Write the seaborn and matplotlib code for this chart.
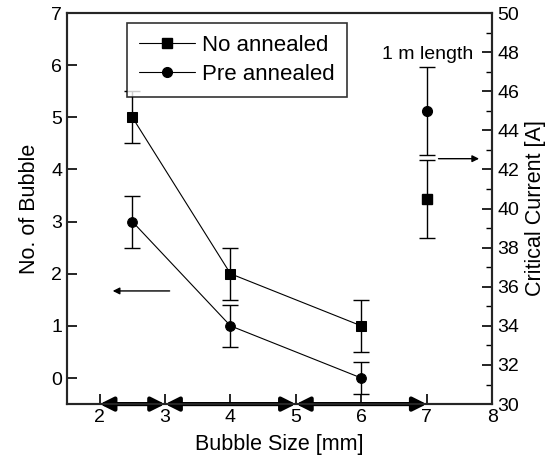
import numpy as np
import pandas as pd
import seaborn as sns
import matplotlib.pyplot as plt
from matplotlib.lines import Line2D

# bubble size [mm] vs number of bubbles (left axis)
bubble_size = [2.5, 4, 6]
no_annealed = [5, 2, 1]
no_annealed_err = [0.5, 0.5, 0.5]
pre_annealed = [3, 1, 0]
pre_annealed_err = [0.5, 0.4, 0.3]

# 1 m length critical current (right axis)
ic_x = 7
ic_no_annealed = 40.5
ic_no_annealed_err = 2.0
ic_pre_annealed = 45.0
ic_pre_annealed_err = 2.25

# bubble size ranges drawn as arrows on the x axis
size_bins = [(2, 3), (3, 5), (5, 7)]

sns.set_style("ticks")
plt.rcParams['font.family'] = ['Liberation Sans', 'DejaVu Sans']
plt.rcParams['text.color'] = 'black'
plt.rcParams['axes.labelcolor'] = 'black'
plt.rcParams['xtick.color'] = 'black'
plt.rcParams['ytick.color'] = 'black'

df = pd.DataFrame({
    'size': bubble_size * 2,
    'count': no_annealed + pre_annealed,
    'kind': ['No annealed'] * 3 + ['Pre annealed'] * 3,
})

fig = plt.figure(figsize=(5.53, 4.65), dpi=100)
ax = fig.add_axes([0.121, 0.131, 0.769, 0.841])

sns.lineplot(data=df, x='size', y='count', style='kind', markers={'No annealed': 's', 'Pre annealed': 'o'},
             dashes=False, color='black', lw=0.8, markersize=7, markeredgecolor='black',
             legend=False, ax=ax)
ax.errorbar(bubble_size, no_annealed, yerr=no_annealed_err, fmt='none', ecolor='black',
            elinewidth=1, capsize=6, capthick=1)
ax.errorbar(bubble_size, pre_annealed, yerr=pre_annealed_err, fmt='none', ecolor='black',
            elinewidth=1, capsize=6, capthick=1)

ax.set_xlim(1.5, 8)
ax.set_ylim(-0.5, 7)
ax.set_xticks(range(2, 9))
ax.set_yticks(range(0, 8))
ax.tick_params(direction='in', length=7, width=1.2, labelsize=14)
ax.set_xlabel('Bubble Size [mm]', fontsize=15.5, labelpad=6)
ax.set_ylabel('No. of Bubble', fontsize=15.5, labelpad=8)
for s in ax.spines.values():
    s.set_linewidth(1.5)

ax2 = ax.twinx()
ax2.errorbar([ic_x], [ic_pre_annealed], yerr=ic_pre_annealed_err, fmt='o', color='black',
             markersize=7, elinewidth=1, capsize=6, capthick=1)
ax2.errorbar([ic_x], [ic_no_annealed], yerr=ic_no_annealed_err, fmt='s', color='black',
             markersize=7, elinewidth=1, capsize=6, capthick=1)
ax2.set_ylim(30, 50)
ax2.set_yticks(range(30, 51, 2))
ax2.set_yticks(range(31, 50, 2), minor=True)
ax2.tick_params(direction='in', length=7, width=1.2, labelsize=14)
ax2.tick_params(which='minor', direction='in', length=4, width=1)
ax2.set_ylabel('Critical Current [A]', fontsize=15.5, labelpad=4)
for s in ax2.spines.values():
    s.set_linewidth(1.5)

# size range arrows on the bottom axis
for lo, hi in size_bins:
    ax.annotate('', xy=(hi, -0.5), xytext=(lo, -0.5),
                arrowprops=dict(arrowstyle='<|-|>', color='black', lw=3, mutation_scale=20,
                                shrinkA=0, shrinkB=0), annotation_clip=False)

# axis pointer arrows
ax.annotate('', xy=(2.2, 1.67), xytext=(3.07, 1.67),
            arrowprops=dict(arrowstyle='-|>', color='black', lw=1, mutation_scale=10, shrinkA=0, shrinkB=0))
ax2.annotate('', xy=(7.8, 42.55), xytext=(7.18, 42.55),
             arrowprops=dict(arrowstyle='-|>', color='black', lw=1, mutation_scale=10, shrinkA=0, shrinkB=0))
ax2.text(7.02, 47.9, '1 m length', fontsize=14, ha='center', va='center')

handles = [Line2D([], [], color='black', lw=0.8, marker='s', markersize=7),
           Line2D([], [], color='black', lw=0.8, marker='o', markersize=7)]
leg = ax.legend(handles, ['No annealed', 'Pre annealed'], loc='upper left',
                bbox_to_anchor=(0.141, 0.975), fontsize=16, frameon=True, fancybox=False,
                edgecolor='black', handlelength=2.5, borderpad=0.55, labelspacing=0.35,
                handletextpad=0.35, borderaxespad=0)
leg.get_frame().set_linewidth(1.2)
leg.set_zorder(5)

fig.savefig('out.png', dpi=100)
